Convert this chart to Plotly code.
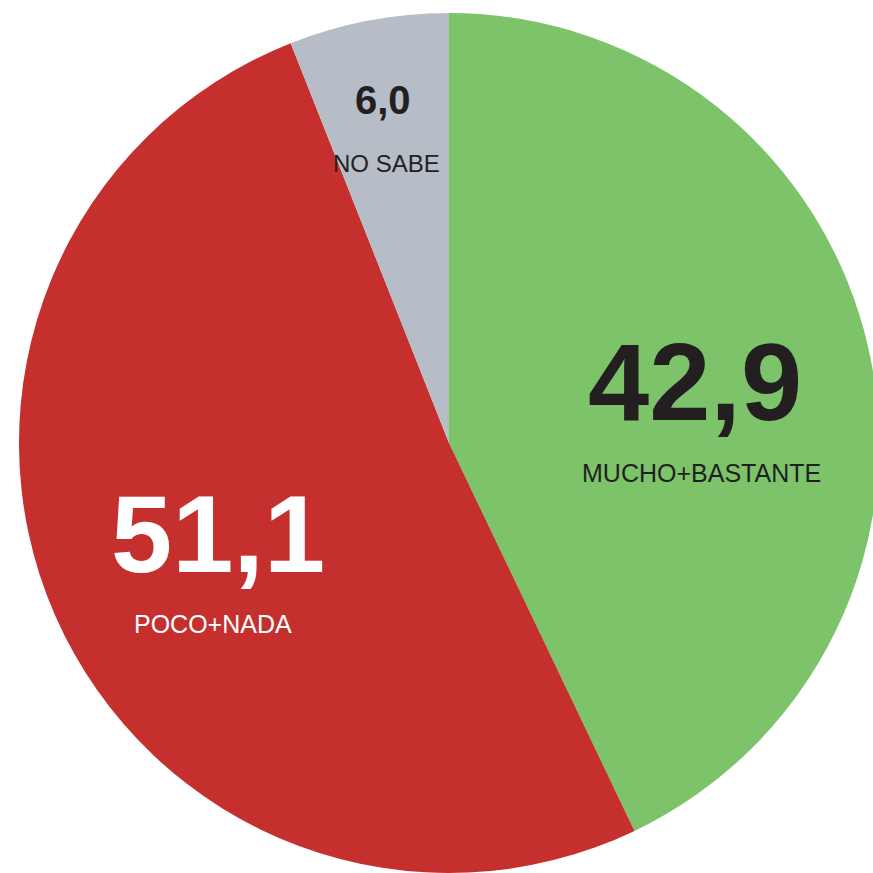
import plotly.graph_objects as go

categories = ["MUCHO+BASTANTE", "POCO+NADA", "NO SABE"]
values = [42.9, 51.1, 6.0]
colors = ["#7CC36A", "#C5302E", "#B6BDC6"]
value_colors = ["#231F20", "#FFFFFF", "#231F20"]
label_colors = ["#231F20", "#FFFFFF", "#231F20"]

W, H = 882, 874
FONT = "Liberation Sans, Arial, sans-serif"

fig = go.Figure(go.Pie(
    labels=categories,
    values=values,
    marker=dict(colors=colors, line=dict(width=0)),
    sort=False,
    direction="clockwise",
    rotation=0,
    textinfo="none",
    hoverinfo="label+value",
    domain=dict(x=[17 / W, 881 / W], y=[1 - 873 / H, 1 - 13 / H]),
    showlegend=False,
))

def fmt(v):
    return f"{v:.1f}".replace(".", ",")

# label placement (pixel centres) and sizes
val_pos = [(695, 381), (218, 533), (383, 100)]
val_size = [110, 110, 40]
lab_pos = [(701, 473), (213, 624), (386, 163)]
lab_size = [25, 25, 24]

ann = []
for i, (cat, v) in enumerate(zip(categories, values)):
    vx, vy = val_pos[i]
    lx, ly = lab_pos[i]
    ann.append(dict(x=vx / W, y=1 - vy / H, xref="paper", yref="paper",
                    text=f"<b>{fmt(v)}</b>", showarrow=False,
                    xanchor="center", yanchor="middle",
                    font=dict(family=FONT, size=val_size[i], color=value_colors[i])))
    ann.append(dict(x=lx / W, y=1 - ly / H, xref="paper", yref="paper",
                    text=cat, showarrow=False,
                    xanchor="center", yanchor="middle",
                    font=dict(family=FONT, size=lab_size[i], color=label_colors[i])))

fig.update_layout(
    width=W, height=H,
    margin=dict(l=0, r=0, t=0, b=0),
    paper_bgcolor="white",
    plot_bgcolor="white",
    annotations=ann,
)

fig.write_html("out.html",
               config={"displayModeBar": False},
               post_script="document.body.style.margin='0';document.body.style.overflow='hidden';")
